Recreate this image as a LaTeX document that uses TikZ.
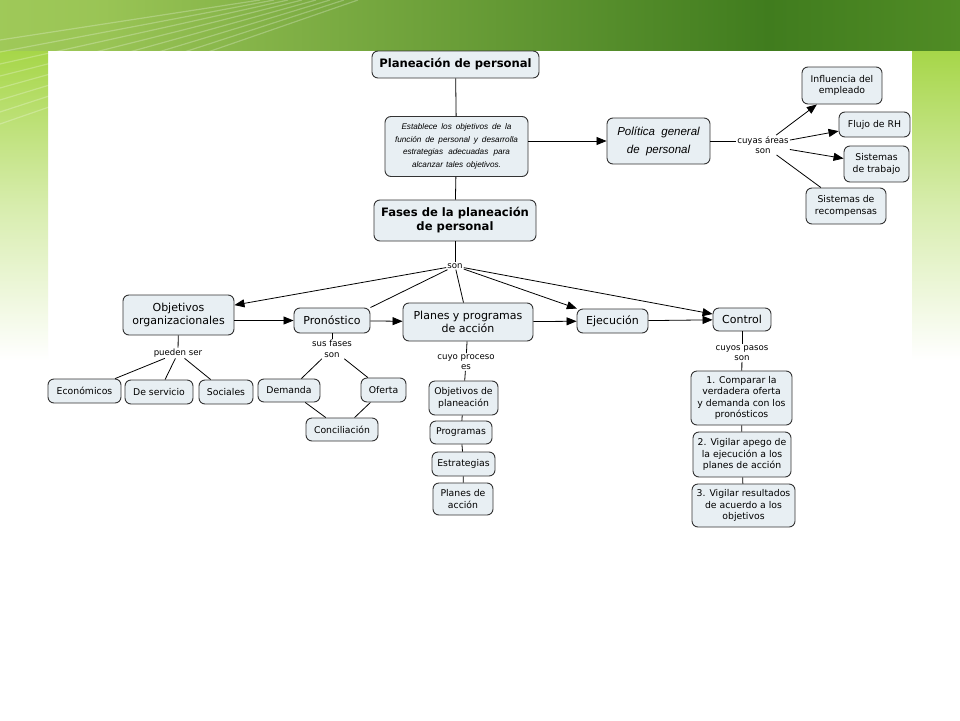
\documentclass[tikz,border=0pt]{standalone}
\usepackage{fontspec}
\setmainfont{DejaVu Sans}
\newfontfamily\arialfont{Liberation Sans}
\usetikzlibrary{arrows.meta}

\definecolor{boxfill}{RGB}{232,239,243}
\definecolor{bandlight}{RGB}{184,221,104}
\definecolor{banddark}{RGB}{64,124,30}
\definecolor{bandright}{RGB}{140,198,62}
\definecolor{sidegreen}{RGB}{166,214,72}
\pgfdeclarehorizontalshading{slideband}{100bp}{color(0bp)=(bandlight); color(30bp)=(bandlight!75!banddark); color(65bp)=(banddark); color(86bp)=(banddark!55!bandright); color(100bp)=(bandright)}

\newcommand\descline[2]{\makebox[#1pt][s]{#2}}

\begin{document}
\begin{tikzpicture}[x=1pt,y=-1pt,>={Triangle[length=10pt,width=8pt]},
  concept/.style={draw=black!80,fill=boxfill,rounded corners=6pt,line width=0.9pt,align=center,inner sep=2pt},
  headbox/.style={concept,font=\fontsize{11.6}{14}\selectfont\bfseries},
  phasebox/.style={concept,font=\fontsize{11}{13}\selectfont},
  itembox/.style={concept,font=\fontsize{9.3}{11.5}\selectfont},
  linkword/.style={font=\fontsize{8.6}{10.5}\selectfont,align=center,inner sep=1pt,fill=white},
  conn/.style={line width=0.8pt}]
\useasboundingbox (0,0) rectangle (960,720);

% slide background
\fill[white] (0,0) rectangle (960,720);
\shade[top color=sidegreen,bottom color=white,middle color=sidegreen!45] (0,50) rectangle (48,360);
\shade[top color=sidegreen,bottom color=white,middle color=sidegreen!45] (912,50) rectangle (960,360);
\shade[shading=slideband] (0,0) rectangle (960,50);
\foreach \k in {0,...,7}
  \draw[white,opacity=0.25,line width=1.2pt] (0,{40+12*\k}) -- ({260+14*\k},0);

% top of the map
\node[headbox,minimum width=167,minimum height=27] (planeacion) at (455.5,64.5) {Planeación de personal};
\node[concept,minimum width=143,minimum height=60,inner sep=0pt,
      font=\arialfont\itshape\fontsize{8.2}{12.6}\selectfont] (descr) at (456.5,146.5)
  {\descline{110}{Establece los objetivos de la}\\
   \descline{123}{función de personal y desarrolla}\\
   \descline{107}{estrategias adecuadas para}\\
   \descline{89}{alcanzar tales objetivos.}};
\node[headbox,minimum width=162,minimum height=41] (fases) at (455,220.5) {Fases de la planeación\\de personal};

% politica general
\node[concept,minimum width=103,minimum height=46,font=\arialfont\itshape\fontsize{11.5}{18}\selectfont] (politica) at (658.5,141)
  {Política\ \ general\\de\ \ personal};
\node[linkword] (areas) at (763,145) {cuyas áreas\\son};
\node[itembox,minimum width=80,minimum height=37] (influencia) at (842,85.5) {Influencia del\\empleado};
\node[itembox,minimum width=71,minimum height=25] (flujo) at (874.5,124.5) {Flujo de RH};
\node[itembox,minimum width=65,minimum height=36] (sistrab) at (876.5,164) {Sistemas\\de trabajo};
\node[itembox,minimum width=80,minimum height=36] (sisrec) at (846,206) {Sistemas de\\recompensas};

% fases
\node[linkword] (son) at (455,266) {son};
\node[phasebox,minimum width=111,minimum height=40] (objorg) at (178.5,315) {Objetivos\\organizacionales};
\node[phasebox,minimum width=76,minimum height=25] (pronostico) at (332,320.5) {Pronóstico};
\node[phasebox,minimum width=130,minimum height=38] (planes) at (468,322) {Planes y programas\\de acción};
\node[phasebox,minimum width=71,minimum height=24] (ejecucion) at (612.5,321) {Ejecución};
\node[phasebox,minimum width=58,minimum height=23] (control) at (742,319.5) {Control};

% objetivos organizacionales
\node[linkword] (pueden) at (178,353) {pueden ser};
\node[itembox,minimum width=73,minimum height=24] (economicos) at (84.5,391) {Económicos};
\node[itembox,minimum width=68,minimum height=24] (servicio) at (159,392) {De servicio};
\node[itembox,minimum width=54,minimum height=24] (sociales) at (226,392) {Sociales};

% pronostico
\node[linkword] (fasesson) at (332,349) {sus fases\\son};
\node[itembox,minimum width=62,minimum height=23] (demanda) at (289,390.5) {Demanda};
\node[itembox,minimum width=45,minimum height=24] (oferta) at (383.5,390) {Oferta};
\node[itembox,minimum width=72,minimum height=23] (conciliacion) at (342,429.5) {Conciliación};

% planes y programas
\node[linkword] (proceso) at (466,362) {cuyo proceso\\es};
\node[itembox,minimum width=69,minimum height=34] (objplan) at (463.5,398) {Objetivos de\\planeación};
\node[itembox,minimum width=62,minimum height=23] (programas) at (461,432.5) {Programas};
\node[itembox,minimum width=63,minimum height=24] (estrategias) at (463.5,464) {Estrategias};
\node[itembox,minimum width=60,minimum height=32] (planacc) at (463,499) {Planes de\\acción};

% control
\node[linkword] (pasos) at (742,353) {cuyos pasos\\son};
\node[itembox,minimum width=101,minimum height=54] (paso1) at (741.5,398) {1. Comparar la\\verdadera oferta\\y demanda con los\\pronósticos};
\node[itembox,minimum width=98,minimum height=45] (paso2) at (742,454.5) {2. Vigilar apego de\\la ejecución a los\\planes de acción};
\node[itembox,minimum width=103,minimum height=43] (paso3) at (743.5,505.5) {3. Vigilar resultados\\de acuerdo a los\\objetivos};

% connectors
\draw[conn] (planeacion) -- (descr);
\draw[conn] (descr) -- (fases);
\draw[conn,->] (descr.east |- politica) -- (politica);
\draw[conn] (politica.east) -- (areas.west |- politica.east);
\draw[conn,->] (areas) -- (influencia);
\draw[conn,->] (areas) -- (flujo);
\draw[conn,->] (areas) -- (sistrab);
\draw[conn] (areas) -- (sisrec);

\draw[conn] (fases) -- (son);
\draw[conn,->] (son) -- (objorg);
\draw[conn] (son) -- (pronostico.north east);
\draw[conn] (son) -- (planes);
\draw[conn,->] (son) -- (ejecucion);
\draw[conn,->] (son) -- (control);
\draw[conn,->] (objorg.east |- pronostico) -- (pronostico);
\draw[conn,->] (pronostico) -- (planes);
\draw[conn,->] (planes) -- (ejecucion);
\draw[conn,->] (ejecucion) -- (control);

\draw[conn] (objorg) -- (pueden);
\draw[conn] (pueden) -- (economicos);
\draw[conn] (pueden) -- (servicio);
\draw[conn] (pueden) -- (sociales);

\draw[conn] (pronostico) -- (fasesson);
\draw[conn] (fasesson) -- (demanda);
\draw[conn] (fasesson) -- (oferta);
\draw[conn] (demanda) -- (conciliacion);
\draw[conn] (oferta) -- (conciliacion);

\draw[conn] (planes) -- (proceso);
\draw[conn] (proceso) -- (objplan);
\draw[conn] (objplan) -- (programas);
\draw[conn] (programas) -- (estrategias);
\draw[conn] (estrategias) -- (planacc);

\draw[conn] (control) -- (pasos);
\draw[conn] (pasos) -- (paso1);
\draw[conn] (paso1) -- (paso2);
\draw[conn] (paso2) -- (paso3);
\end{tikzpicture}
\end{document}
